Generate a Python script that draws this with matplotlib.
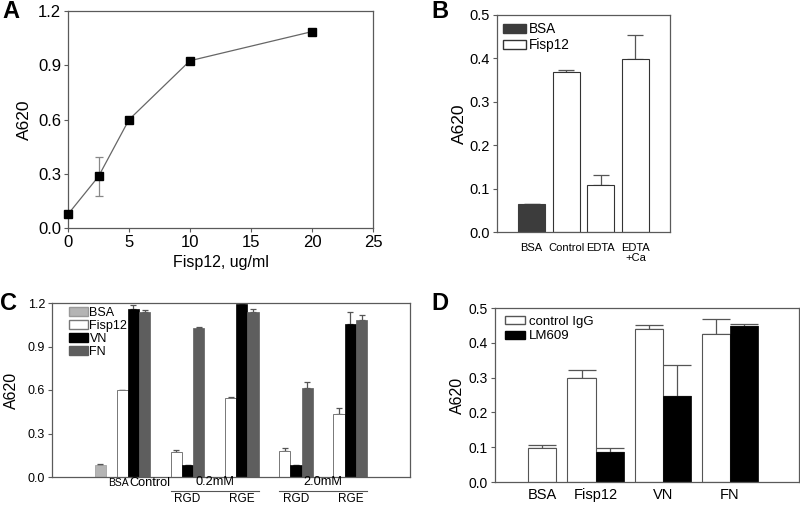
import matplotlib
matplotlib.use('Agg')
import matplotlib.pyplot as plt
import numpy as np
from matplotlib.transforms import blended_transform_factory
from matplotlib.patches import Patch

plt.rcParams['font.family'] = ['Liberation Sans', 'DejaVu Sans']

# ---------------- data ----------------
# Panel A
a_conc = [0, 2.5, 5, 10, 20]
a_abs = [0.076, 0.285, 0.599, 0.925, 1.086]
a_err = [0.0, 0.11, 0.0, 0.0, 0.0]
a_xticks = [0, 5, 10, 15, 20, 25]
a_yticks = [0.0, 0.3, 0.6, 0.9, 1.2]

# Panel B
b_labels = ['BSA', 'Control', 'EDTA', 'EDTA\n+Ca']
b_values = [0.065, 0.369, 0.108, 0.398]
b_err = [0.0, 0.005, 0.023, 0.057]
b_series = ['BSA', 'Fisp12', 'Fisp12', 'Fisp12']
b_yticks = [0.0, 0.1, 0.2, 0.3, 0.4, 0.5]

# Panel C
c_bsa = 0.085
c_bsa_err = 0.004
c_groups = ['Control', 'RGD 0.2mM', 'RGE 0.2mM', 'RGD 2.0mM', 'RGE 2.0mM']
c_fisp12 = [0.600, 0.170, 0.545, 0.177, 0.434]
c_fisp12_err = [0.0, 0.017, 0.004, 0.023, 0.042]
c_vn = [1.158, 0.080, 1.195, 0.080, 1.055]
c_vn_err = [0.028, 0.0, 0.010, 0.0, 0.085]
c_fn = [1.140, 1.028, 1.140, 0.614, 1.085]
c_fn_err = [0.012, 0.004, 0.018, 0.041, 0.032]
c_yticks = [0.0, 0.3, 0.6, 0.9, 1.2]
c_conc_labels = ['0.2mM', '2.0mM']
c_pep_labels = ['RGD', 'RGE']

# Panel D
d_cats = ['BSA', 'Fisp12', 'VN', 'FN']
d_ctrl = [0.098, 0.299, 0.440, 0.426]
d_ctrl_err = [0.009, 0.023, 0.012, 0.041]
d_lm = [np.nan, 0.086, 0.246, 0.447]
d_lm_err = [0.0, 0.012, 0.089, 0.007]
d_yticks = [0.0, 0.1, 0.2, 0.3, 0.4, 0.5]

# ---------------- styling ----------------
W, H = 800, 505
fig = plt.figure(figsize=(W / 100, H / 100), dpi=100)
SPINE = '#5a5a5a'
ERR = '#555555'


def axes_px(l, t, r, b):
    return fig.add_axes([l / W, 1 - b / H, (r - l) / W, (b - t) / H])


def style(ax, fs):
    for s in ax.spines.values():
        s.set_color(SPINE)
        s.set_linewidth(0.9)
    ax.tick_params(direction='out', length=3, width=0.8, color=SPINE,
                   labelsize=fs, pad=2)


def upper_err(ax, x, y, e, cap):
    y = np.asarray(y, float)
    e = np.asarray(e, float)
    ax.errorbar(x, y, yerr=[np.zeros_like(e), e], fmt='none', ecolor=ERR,
                elinewidth=0.9, capsize=cap, capthick=0.9, zorder=1)


# ---------------- Panel A ----------------
axA = axes_px(68, 11, 373, 228)
style(axA, 12)
axA.errorbar(a_conc, a_abs, yerr=a_err, fmt='none', ecolor='#888888',
             elinewidth=0.9, capsize=3, capthick=0.9, zorder=2)
axA.plot(a_conc, a_abs, color='#666666', lw=0.9, zorder=2)
axA.plot(a_conc, a_abs, 's', color='black', ms=5.2, clip_on=False, zorder=3)
axA.set_xlim(0, 25)
axA.set_ylim(0, 1.2)
axA.set_xticks(a_xticks)
axA.set_yticks(a_yticks)
axA.set_yticklabels([f'{v:.1f}' for v in a_yticks])
axA.set_xlabel('Fisp12, ug/ml', fontsize=11.5, labelpad=4)
axA.set_ylabel('A620', fontsize=12.5, labelpad=4)

# ---------------- Panel B ----------------
axB = axes_px(497, 15, 670, 232)
style(axB, 10.5)
xb = np.arange(len(b_labels))
colors_b = {'BSA': '#3c3c3c', 'Fisp12': 'white'}
for i, (v, s) in enumerate(zip(b_values, b_series)):
    axB.bar(xb[i], v, width=0.78, color=colors_b[s],
            edgecolor='#333333' if s == 'Fisp12' else '#3c3c3c', lw=0.8, zorder=2)
upper_err(axB, xb, b_values, b_err, 6)
axB.set_xlim(-1, 4)
axB.set_ylim(0, 0.5)
axB.set_yticks(b_yticks)
axB.set_yticklabels([f'{v:.1f}' for v in b_yticks])
axB.set_xticks(xb)
axB.set_xticklabels(b_labels, fontsize=8, va='top', linespacing=1.0)
axB.tick_params(axis='x', length=0, pad=8)
axB.set_ylabel('A620', fontsize=12.5, labelpad=2)
handles_b = [Patch(facecolor='#3c3c3c', edgecolor='#3c3c3c', label='BSA'),
             Patch(facecolor='white', edgecolor='#333333', label='Fisp12')]
axB.legend(handles=handles_b, loc='upper left', bbox_to_anchor=(0.02, 0.98),
           frameon=False, fontsize=9.8, handlelength=1.7, handleheight=0.6,
           handletextpad=0.2, labelspacing=0.15, borderpad=0.2, borderaxespad=0)

# ---------------- Panel C ----------------
axC = axes_px(52, 303, 410, 477)
style(axC, 9)
wc = 0.207
gx = np.arange(len(c_groups)) + 1.0
bsa_x = 0.39
C_BSA, C_VN, C_FN = '#b4b4b4', 'black', '#5e5e5e'
axC.bar(bsa_x, c_bsa, width=wc, color=C_BSA, edgecolor='#999999', lw=0.5, zorder=2)
axC.bar(gx - wc, c_fisp12, width=wc, color='white', edgecolor='#777777', lw=0.7, zorder=2)
axC.bar(gx, c_vn, width=wc, color=C_VN, edgecolor=C_VN, lw=0.5, zorder=2)
axC.bar(gx + wc, c_fn, width=wc, color=C_FN, edgecolor=C_FN, lw=0.5, zorder=2)
upper_err(axC, [bsa_x], [c_bsa], [c_bsa_err], 2.5)
upper_err(axC, gx - wc, c_fisp12, c_fisp12_err, 2.5)
upper_err(axC, gx, c_vn, c_vn_err, 2.5)
upper_err(axC, gx + wc, c_fn, c_fn_err, 2.5)
axC.set_xlim(-0.5, 6.1)
axC.set_ylim(0, 1.2)
axC.set_yticks(c_yticks)
axC.set_yticklabels([f'{v:.1f}' for v in c_yticks])
axC.set_xticks([])
axC.set_ylabel('A620', fontsize=11.5, labelpad=6)
trC = blended_transform_factory(axC.transData, axC.transAxes)
axC.text(gx[0] - 0.08, -0.033, 'Control', fontsize=9.2, ha='left', va='center', transform=trC)
axC.text(gx[0] - 0.08, -0.033, 'BSA', fontsize=7.5, ha='right', va='center', transform=trC)
for k, lab in enumerate(c_conc_labels):
    g1, g2 = gx[1 + 2 * k], gx[2 + 2 * k]
    axC.text((g1 + g2) / 2, -0.031, lab, fontsize=9.2, ha='center', va='center', transform=trC)
    axC.plot([g1 - 1.5 * wc, g2 + 1.5 * wc], [-0.08, -0.08], color='#555555',
             lw=0.8, transform=trC, clip_on=False)
    for g, pl in zip((g1, g2), c_pep_labels):
        axC.text(g, -0.125, pl, fontsize=8.5, ha='center', va='center', transform=trC)
handles_c = [Patch(facecolor=C_BSA, edgecolor='#999999', label='BSA'),
             Patch(facecolor='white', edgecolor='#777777', label='Fisp12'),
             Patch(facecolor=C_VN, edgecolor=C_VN, label='VN'),
             Patch(facecolor=C_FN, edgecolor=C_FN, label='FN')]
axC.legend(handles=handles_c, loc='upper left', bbox_to_anchor=(0.04, 0.99),
           frameon=False, fontsize=9, handlelength=1.5, handleheight=0.7,
           handletextpad=0.15, labelspacing=0.08, borderpad=0.2, borderaxespad=0)

# ---------------- Panel D ----------------
axD = axes_px(495, 308, 799, 482)
style(axD, 10)
wd = 0.42
xd = np.arange(len(d_cats), dtype=float)
xd[0] = 0.2
ctrl_x = np.where(np.arange(len(d_cats)) == 0, xd, xd - wd / 2)
lm_x = xd + wd / 2
axD.bar(ctrl_x, d_ctrl, width=wd, color='white', edgecolor='#555555', lw=0.8, zorder=2)
axD.bar(lm_x, d_lm, width=wd, color='black', edgecolor='black', lw=0.5, zorder=2)
upper_err(axD, ctrl_x, d_ctrl, d_ctrl_err, 10)
upper_err(axD, lm_x[1:], d_lm[1:], d_lm_err[1:], 10)
axD.set_xlim(-0.5, 4.03)
axD.set_ylim(0, 0.5)
axD.set_yticks(d_yticks)
axD.set_yticklabels([f'{v:.1f}' for v in d_yticks])
axD.set_xticks(xd)
axD.set_xticklabels(d_cats, fontsize=10.5)
axD.tick_params(axis='x', length=0, pad=4)
axD.set_ylabel('A620', fontsize=11.5, labelpad=3)
handles_d = [Patch(facecolor='white', edgecolor='#555555', label='control IgG'),
             Patch(facecolor='black', edgecolor='black', label='LM609')]
axD.legend(handles=handles_d, loc='upper left', bbox_to_anchor=(0.025, 0.97),
           frameon=False, fontsize=9.5, handlelength=1.5, handleheight=0.6,
           handletextpad=0.3, labelspacing=0.2, borderpad=0.2, borderaxespad=0)

# ---------------- panel letters ----------------
for letter, (px, py) in {'A': (2, 0), 'B': (431, 0), 'C': (0, 292), 'D': (431, 292)}.items():
    fig.text(px / W, 1 - py / H, letter, fontsize=17, fontweight='bold',
             ha='left', va='top')

fig.savefig('out.png', dpi=100)
